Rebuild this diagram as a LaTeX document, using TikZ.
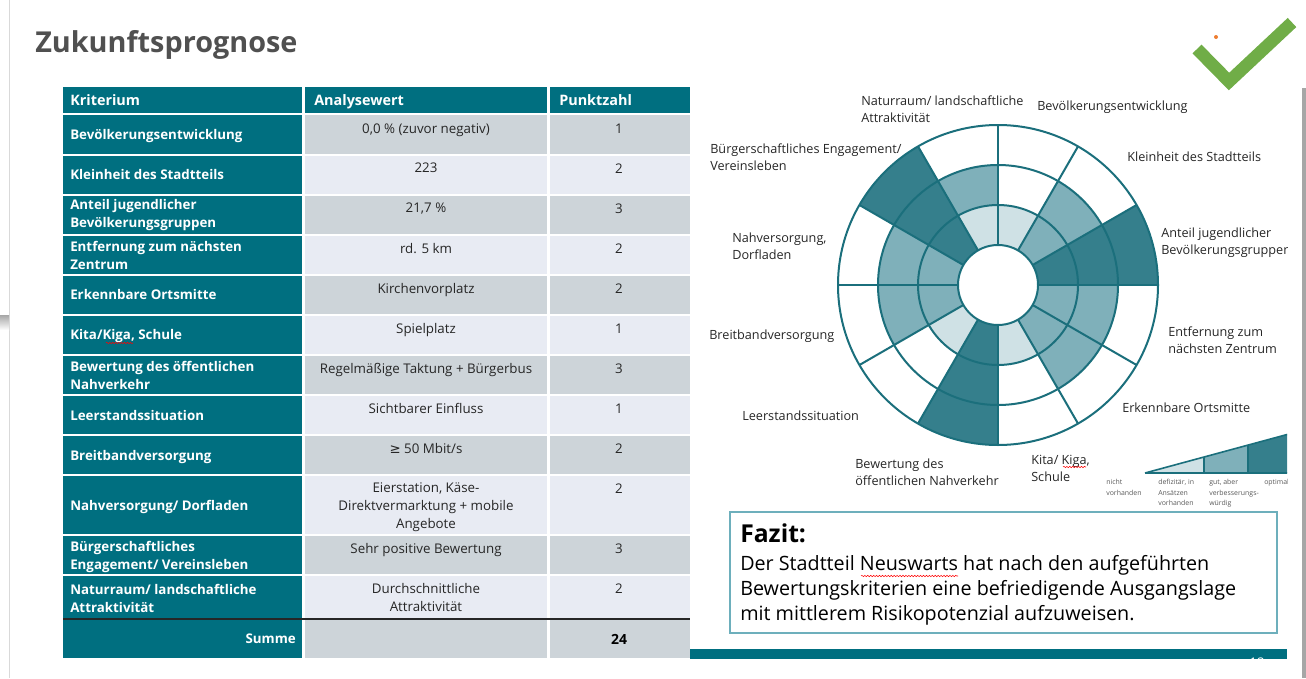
\documentclass[tikz,border=0pt]{standalone}
\usepackage{fontspec}
\setmainfont{Open Sans}
\newfontfamily\symfont{DejaVu Sans}
\usetikzlibrary{decorations.pathmorphing}

\definecolor{tabteal}{RGB}{0,111,128}
\definecolor{rowgray}{RGB}{205,212,217}
\definecolor{rowlight}{RGB}{232,235,243}
\definecolor{chline}{RGB}{27,111,124}
\definecolor{cdark}{RGB}{53,127,140}
\definecolor{cmed}{RGB}{127,176,186}
\definecolor{clight}{RGB}{207,225,229}
\definecolor{txtgray}{RGB}{38,38,38}
\definecolor{titlegray}{RGB}{80,80,80}
\definecolor{leggray}{RGB}{89,89,89}
\definecolor{checkgreen}{RGB}{112,173,71}
\definecolor{dotorange}{RGB}{237,125,49}
\definecolor{fazitline}{RGB}{109,175,188}
\definecolor{edgegray}{RGB}{166,166,166}

\tikzset{
  headtxt/.style={anchor=base west, inner sep=0.75pt, text=white, font=\fontsize{10.8}{13}\selectfont\bfseries},
  krit/.style={anchor=west, inner sep=0.75pt, align=left, text=white, font=\fontsize{10}{13.5}\selectfont\bfseries},
  kritone/.style={krit, anchor=base west},
  anal/.style={anchor=north, inner sep=0.75pt, align=center, text=txtgray, font=\fontsize{10}{13.8}\selectfont},
  punkt/.style={anchor=north, inner sep=0.75pt, text=txtgray, font=\fontsize{10}{12}\selectfont},
  lbl/.style={anchor=west, inner sep=0.75pt, align=left, text=txtgray, font=\fontsize{9.5}{12.75}\selectfont},
  leg/.style={anchor=north west, inner sep=0.75pt, align=left, text=leggray, font=\fontsize{5.2}{7.9}\selectfont},
  ring/.style={draw=chline, line width=1.5pt},
  spell/.style={red, line width=0.4pt, decorate, decoration={snake, amplitude=0.5pt, segment length=2.2pt}},
}

\begin{document}
\begin{tikzpicture}[x=0.75pt,y=0.75pt,yscale=-1,xscale=1]
\useasboundingbox (0,0) rectangle (1306,678);

%Slide edges
\draw [color={rgb,255:red,217;green,217;blue,217}, line width=0.75pt] (9,0) -- (9,678) ;
\shade [top color=edgegray, bottom color=white] (0,315) rectangle (9,330) ;
\fill [edgegray] (1302,88) rectangle (1306,678) ;

% Title
\draw (35,52) node (title) [anchor=base west, inner sep=0pt, text=titlegray, font=\fontsize{21.6}{26}\selectfont\bfseries] {Zukunftsprognose};

%Check mark
\draw [checkgreen, line width=9.4pt, line join=miter] (1197,49) -- (1229,81.5) -- (1292,22.5) ;
\fill [dotorange] (1216,37) circle (2) ;

%Table: header
\fill [tabteal] (63,87) rectangle (302,113) ;
\fill [tabteal] (305,87) rectangle (547,113) ;
\fill [tabteal] (550,87) rectangle (690,113) ;
%Table: rows
\foreach \t/\b/\c in {115/154/rowgray,156/194/rowlight,196/234/rowgray,236/274/rowlight,276/314/rowgray,316/354/rowlight,356/394/rowgray,396/434/rowlight,436/474/rowgray,476/534/rowlight,536/574/rowgray,576/618/rowlight,620/658/rowgray}{
  \fill [tabteal] (63,\t) rectangle (302,\b) ;
  \fill [\c] (305,\t) rectangle (547,\b) ;
  \fill [\c] (550,\t) rectangle (690,\b) ;
}
\draw [black!85, line width=1.5pt] (63,619) -- (690,619) ;

% Text Node: header
\draw (69,105) node (hKrit) [headtxt] {Kriterium};
\draw (313,105) node (hAnal) [headtxt] {Analysewert};
\draw (558,105) node (hPunkt) [headtxt] {Punktzahl};

% Text Node: Kriterium
\draw (69,139.5) node (k1) [kritone] {Bevölkerungsentwicklung};
\draw (69,179.5) node (k2) [kritone] {Kleinheit des Stadtteils};
\draw (69,215) node (k3) [krit] {Anteil jugendlicher\\Bevölkerungsgruppen};
\draw (69,255) node (k4) [krit] {Entfernung zum nächsten\\Zentrum};
\draw (69,299.5) node (k5) [kritone] {Erkennbare Ortsmitte};
\draw (69,339.5) node (k6) [kritone] {Kita/Kiga, Schule};
\draw (69,375) node (k7) [krit] {Bewertung des öffentlichen\\Nahverkehr};
\draw (69,420.5) node (k8) [kritone] {Leerstandssituation};
\draw (69,460.5) node (k9) [kritone] {Breitbandversorgung};
\draw (69,510.5) node (k10) [kritone] {Nahversorgung/ Dorfladen};
\draw (69,557) node (k11) [krit] {Bürgerschaftliches\\Engagement/ Vereinsleben};
\draw (69,598) node (k12) [krit] {Naturraum/ landschaftliche\\Attraktivität};
\draw (297,643.5) node (kSum) [kritone, anchor=base east] {Summe};
\draw [spell] (106,343) -- (133,343) ;

% Text Node: Analysewert
\draw (426,122) node (a1) [anal] {0,0 \% (zuvor negativ)};
\draw (426,162) node (a2) [anal] {223};
\draw (426,202) node (a3) [anal] {21,7 \%};
\draw (426,242) node (a4) [anal] {rd. 5 km};
\draw (426,282) node (a5) [anal] {Kirchenvorplatz};
\draw (426,322) node (a6) [anal] {Spielplatz};
\draw (426,362) node (a7) [anal] {Regelmäßige Taktung + Bürgerbus};
\draw (426,402) node (a8) [anal] {Sichtbarer Einfluss};
\draw (426,442) node (a9) [anal] {{\symfont ≥} 50 Mbit/s};
\draw (426,481) node (a10) [anal] {Eierstation, Käse-\\Direktvermarktung + mobile\\Angebote};
\draw (426,542) node (a11) [anal] {Sehr positive Bewertung};
\draw (426,582) node (a12) [anal] {Durchschnittliche\\Attraktivität};

% Text Node: Punktzahl
\draw (619,123) node (p1) [punkt] {1};
\draw (619,163) node (p2) [punkt] {2};
\draw (619,203) node (p3) [punkt] {3};
\draw (619,243) node (p4) [punkt] {2};
\draw (619,283) node (p5) [punkt] {2};
\draw (619,323) node (p6) [punkt] {1};
\draw (619,363) node (p7) [punkt] {3};
\draw (619,403) node (p8) [punkt] {1};
\draw (619,443) node (p9) [punkt] {2};
\draw (619,483) node (p10) [punkt] {2};
\draw (619,543) node (p11) [punkt] {3};
\draw (619,583) node (p12) [punkt] {2};
\draw (619,639) node (pSum) [punkt, anchor=center, text=black, font=\fontsize{10.5}{12}\selectfont\bfseries] {24};

%Shape: Ring chart
\begin{scope}[shift={(998,285)}, yscale=-1]
\foreach \a/\ci/\cm/\co in {60/clight/white/white,30/cmed/cmed/white,0/cdark/cdark/cdark,-30/cmed/cmed/white,-60/cmed/cmed/white,-90/clight/white/white,-120/cdark/cdark/cdark,-150/clight/white/white,-180/cmed/cmed/white,150/cmed/cmed/white,120/cdark/cdark/cdark,90/clight/cmed/white}{
  \fill [\ci] (\a:40) arc [start angle=\a, end angle=\a+30, radius=40] -- (\a+30:80) arc [start angle=\a+30, end angle=\a, radius=80] -- cycle ;
  \fill [\cm] (\a:80) arc [start angle=\a, end angle=\a+30, radius=80] -- (\a+30:120) arc [start angle=\a+30, end angle=\a, radius=120] -- cycle ;
  \fill [\co] (\a:120) arc [start angle=\a, end angle=\a+30, radius=120] -- (\a+30:160) arc [start angle=\a+30, end angle=\a, radius=160] -- cycle ;
}
\foreach \a in {0,30,...,330}{
  \draw [ring] (\a:40) -- (\a:160) ;
}
\draw [ring] (0,0) circle (40) ;
\draw [ring] (0,0) circle (80) ;
\draw [ring] (0,0) circle (120) ;
\draw [ring] (0,0) circle (160) ;
\end{scope}

% Text Node: chart labels
\draw (860,109.5) node (lNatur) [lbl] {Naturraum/ landschaftliche\\Attraktivität};
\draw (1036,107) node (lBevoelk) [lbl] {Bevölkerungsentwicklung};
\draw (709,157.5) node (lBuerger) [lbl] {Bürgerschaftliches Engagement/\\Vereinsleben};
\draw (1126,157) node (lKlein) [lbl] {Kleinheit des Stadtteils};
\draw (731,246.5) node (lNahv) [lbl] {Nahversorgung,\\Dorfladen};
\draw (708,336) node (lBreit) [lbl] {Breitbandversorgung};
\draw (1167,340.5) node (lEntf) [lbl] {Entfernung zum\\nächsten Zentrum};
\draw (741,416) node (lLeer) [lbl] {Leerstandssituation};
\draw (1121,408) node (lOrt) [lbl] {Erkennbare Ortsmitte};
\draw (854,472.5) node (lOepnv) [lbl] {Bewertung des\\öffentlichen Nahverkehr};
\draw (1030,468.5) node (lKita) [lbl] {Kita/ Kiga,\\Schule};
\draw [spell] (1063,467) -- (1086,467) ;

\begin{scope}
\clip (0,0) rectangle (1287,678);
\draw (1160,242.5) node (lAnteil) [lbl] {Anteil jugendlicher\\Bevölkerungsgruppen};
%Shape: Legend wedge
\fill [clight] (1145,473) -- (1204,457) -- (1204,473) -- cycle ;
\fill [cmed] (1204,473) -- (1204,457) -- (1248,445) -- (1248,473) -- cycle ;
\fill [cdark] (1248,473) -- (1248,445) -- (1300,431) -- (1300,473) -- cycle ;
\draw [chline, line width=1.2pt] (1145,473) -- (1300,431) (1145,473) -- (1300,473) (1204,457) -- (1204,473) (1248,445) -- (1248,473) ;
\draw (1263,478) node (gOpt) [leg] {optimal};
\end{scope}
\draw (1105,478) node (gNicht) [leg] {nicht\\vorhanden};
\draw (1157,478) node (gDefiz) [leg] {defizitär, in\\Ansätzen\\vorhanden};
\draw (1208,478) node (gGut) [leg] {gut, aber\\verbesserungs-\\würdig};

%Shape: Fazit box
\draw [fazitline, line width=0.9pt] (730,512) rectangle (1277,633) ;
\draw (739,533) node (fazitHead) [anchor=west, inner sep=0.75pt, text=black, font=\fontsize{18.5}{22}\selectfont\bfseries] {Fazit:};
\draw (739,590) node (fazitText) [anchor=west, inner sep=0.75pt, align=left, text=black, font=\fontsize{14.8}{18.75}\selectfont] {Der Stadtteil Neuswarts hat nach den aufgeführten\\Bewertungskriterien eine befriedigende Ausgangslage\\mit mittlerem Risikopotenzial aufzuweisen.};
\draw [spell] (861,576) -- (958,576) ;

%Bottom bar
\begin{scope}
\clip (690,649) rectangle (1287,659);
\fill [tabteal] (690,649) rectangle (1287,659) ;
\draw (1257,663) node (pageNo) [inner sep=0pt, text=white, font=\fontsize{10}{12}\selectfont] {12};
\end{scope}

\end{tikzpicture}
\end{document}
